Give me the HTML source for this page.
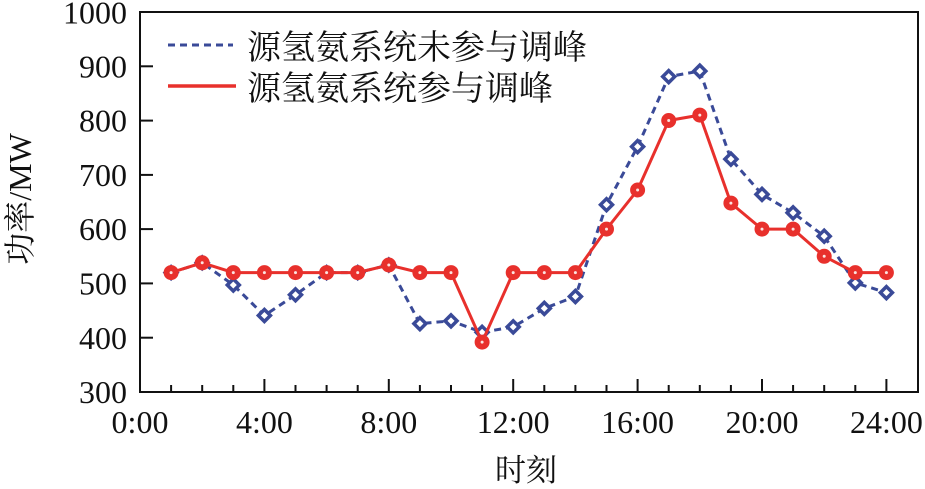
<!DOCTYPE html>
<html><head><meta charset="utf-8"><style>
html,body{margin:0;padding:0;background:#fff;}
svg{display:block;}
.n{font-family:"Liberation Serif","Noto Serif CJK SC",serif;font-size:32px;fill:#111;}
.c{font-family:"Liberation Serif","Noto Serif CJK SC",serif;fill:#111;}
</style></head><body>
<svg width="925" height="489" viewBox="0 0 925 489" xmlns="http://www.w3.org/2000/svg">
<rect x="0" y="0" width="925" height="489" fill="#fff"/>
<!-- frame -->
<rect x="140" y="12" width="778" height="380" fill="none" stroke="#111" stroke-width="2"/>
<!-- y ticks -->
<g stroke="#111" stroke-width="2">
<line x1="140" y1="337.7" x2="153" y2="337.7"/>
<line x1="140" y1="283.4" x2="153" y2="283.4"/>
<line x1="140" y1="229.1" x2="153" y2="229.1"/>
<line x1="140" y1="174.9" x2="153" y2="174.9"/>
<line x1="140" y1="120.6" x2="153" y2="120.6"/>
<line x1="140" y1="66.3" x2="153" y2="66.3"/>
<!-- x ticks -->
<line x1="171.1" y1="392" x2="171.1" y2="385"/>
<line x1="202.2" y1="392" x2="202.2" y2="385"/>
<line x1="233.3" y1="392" x2="233.3" y2="385"/>
<line x1="264.4" y1="392" x2="264.4" y2="379"/>
<line x1="295.5" y1="392" x2="295.5" y2="385"/>
<line x1="326.6" y1="392" x2="326.6" y2="385"/>
<line x1="357.7" y1="392" x2="357.7" y2="385"/>
<line x1="388.8" y1="392" x2="388.8" y2="379"/>
<line x1="419.9" y1="392" x2="419.9" y2="385"/>
<line x1="451" y1="392" x2="451" y2="385"/>
<line x1="482.1" y1="392" x2="482.1" y2="385"/>
<line x1="513.2" y1="392" x2="513.2" y2="379"/>
<line x1="544.3" y1="392" x2="544.3" y2="385"/>
<line x1="575.4" y1="392" x2="575.4" y2="385"/>
<line x1="606.5" y1="392" x2="606.5" y2="385"/>
<line x1="637.6" y1="392" x2="637.6" y2="379"/>
<line x1="668.7" y1="392" x2="668.7" y2="385"/>
<line x1="699.8" y1="392" x2="699.8" y2="385"/>
<line x1="730.9" y1="392" x2="730.9" y2="385"/>
<line x1="762" y1="392" x2="762" y2="379"/>
<line x1="793.1" y1="392" x2="793.1" y2="385"/>
<line x1="824.2" y1="392" x2="824.2" y2="385"/>
<line x1="855.3" y1="392" x2="855.3" y2="385"/>
<line x1="886.4" y1="392" x2="886.4" y2="379"/>
</g>
<!-- y labels -->
<g class="n" text-anchor="end">
<text x="127" y="403">300</text>
<text x="127" y="349">400</text>
<text x="127" y="294.5">500</text>
<text x="127" y="240">600</text>
<text x="127" y="186">700</text>
<text x="127" y="131.5">800</text>
<text x="127" y="77.5">900</text>
<text x="127" y="23.5">1000</text>
</g>
<!-- x labels -->
<g class="n" text-anchor="middle">
<text x="140" y="433">0:00</text>
<text x="264.4" y="433">4:00</text>
<text x="388.8" y="433">8:00</text>
<text x="513.2" y="433">12:00</text>
<text x="637.6" y="433">16:00</text>
<text x="762" y="433">20:00</text>
<text x="886.4" y="433">24:00</text>
</g>
<!-- axis titles -->
<text class="c" x="526" y="481" font-size="31" text-anchor="middle">时刻</text>
<text class="c" transform="translate(31,199) rotate(-90)" font-size="32" text-anchor="middle">功率/MW</text>
<!-- blue series -->
<polyline fill="none" stroke="#3a4a98" stroke-width="3" stroke-dasharray="7,5" points="171.1,272.6 202.2,262.8 233.3,285 264.4,315.5 295.5,294.8 326.6,272.6 357.7,272.6 388.8,265 419.9,323.6 451,320.9 482.1,332.3 513.2,326.9 544.3,308.4 575.4,296.5 606.5,204.7 637.6,146.6 668.7,76.6 699.8,71.1 730.9,159.1 762,194.4 793.1,212.8 824.2,236.2 855.3,282.9 886.4,292.6"/>
<g fill="#fff" stroke="#3a4a98" stroke-width="3.5">
<path d="M171.1,266.6 l6,6 l-6,6 l-6,-6z"/>
<path d="M202.2,256.8 l6,6 l-6,6 l-6,-6z"/>
<path d="M233.3,279 l6,6 l-6,6 l-6,-6z"/>
<path d="M264.4,309.5 l6,6 l-6,6 l-6,-6z"/>
<path d="M295.5,288.8 l6,6 l-6,6 l-6,-6z"/>
<path d="M326.6,266.6 l6,6 l-6,6 l-6,-6z"/>
<path d="M357.7,266.6 l6,6 l-6,6 l-6,-6z"/>
<path d="M388.8,259 l6,6 l-6,6 l-6,-6z"/>
<path d="M419.9,317.6 l6,6 l-6,6 l-6,-6z"/>
<path d="M451,314.9 l6,6 l-6,6 l-6,-6z"/>
<path d="M482.1,326.3 l6,6 l-6,6 l-6,-6z"/>
<path d="M513.2,320.9 l6,6 l-6,6 l-6,-6z"/>
<path d="M544.3,302.4 l6,6 l-6,6 l-6,-6z"/>
<path d="M575.4,290.5 l6,6 l-6,6 l-6,-6z"/>
<path d="M606.5,198.7 l6,6 l-6,6 l-6,-6z"/>
<path d="M637.6,140.6 l6,6 l-6,6 l-6,-6z"/>
<path d="M668.7,70.6 l6,6 l-6,6 l-6,-6z"/>
<path d="M699.8,65.1 l6,6 l-6,6 l-6,-6z"/>
<path d="M730.9,153.1 l6,6 l-6,6 l-6,-6z"/>
<path d="M762,188.4 l6,6 l-6,6 l-6,-6z"/>
<path d="M793.1,206.8 l6,6 l-6,6 l-6,-6z"/>
<path d="M824.2,230.2 l6,6 l-6,6 l-6,-6z"/>
<path d="M855.3,276.9 l6,6 l-6,6 l-6,-6z"/>
<path d="M886.4,286.6 l6,6 l-6,6 l-6,-6z"/>
</g>
<!-- red series -->
<polyline fill="none" stroke="#e8302c" stroke-width="3" points="171.1,272.6 202.2,262.8 233.3,272.6 264.4,272.6 295.5,272.6 326.6,272.6 357.7,272.6 388.8,265 419.9,272.6 451,272.6 482.1,342.1 513.2,272.6 544.3,272.6 575.4,272.6 606.5,229.1 637.6,190 668.7,120.5 699.8,115.1 730.9,203.1 762,229.1 793.1,229.1 824.2,256.3 855.3,272.6 886.4,272.6"/>
<g fill="#e8302c" stroke="#e8302c" stroke-width="2">
<circle cx="171.1" cy="272.6" r="6.5"/>
<circle cx="202.2" cy="262.8" r="6.5"/>
<circle cx="233.3" cy="272.6" r="6.5"/>
<circle cx="264.4" cy="272.6" r="6.5"/>
<circle cx="295.5" cy="272.6" r="6.5"/>
<circle cx="326.6" cy="272.6" r="6.5"/>
<circle cx="357.7" cy="272.6" r="6.5"/>
<circle cx="388.8" cy="265" r="6.5"/>
<circle cx="419.9" cy="272.6" r="6.5"/>
<circle cx="451" cy="272.6" r="6.5"/>
<circle cx="482.1" cy="342.1" r="6.5"/>
<circle cx="513.2" cy="272.6" r="6.5"/>
<circle cx="544.3" cy="272.6" r="6.5"/>
<circle cx="575.4" cy="272.6" r="6.5"/>
<circle cx="606.5" cy="229.1" r="6.5"/>
<circle cx="637.6" cy="190" r="6.5"/>
<circle cx="668.7" cy="120.5" r="6.5"/>
<circle cx="699.8" cy="115.1" r="6.5"/>
<circle cx="730.9" cy="203.1" r="6.5"/>
<circle cx="762" cy="229.1" r="6.5"/>
<circle cx="793.1" cy="229.1" r="6.5"/>
<circle cx="824.2" cy="256.3" r="6.5"/>
<circle cx="855.3" cy="272.6" r="6.5"/>
<circle cx="886.4" cy="272.6" r="6.5"/>
</g>
<g fill="#fbe3e0">
<circle cx="171.1" cy="272.6" r="1.5"/>
<circle cx="202.2" cy="262.8" r="1.5"/>
<circle cx="233.3" cy="272.6" r="1.5"/>
<circle cx="264.4" cy="272.6" r="1.5"/>
<circle cx="295.5" cy="272.6" r="1.5"/>
<circle cx="326.6" cy="272.6" r="1.5"/>
<circle cx="357.7" cy="272.6" r="1.5"/>
<circle cx="388.8" cy="265" r="1.5"/>
<circle cx="419.9" cy="272.6" r="1.5"/>
<circle cx="451" cy="272.6" r="1.5"/>
<circle cx="482.1" cy="342.1" r="1.5"/>
<circle cx="513.2" cy="272.6" r="1.5"/>
<circle cx="544.3" cy="272.6" r="1.5"/>
<circle cx="575.4" cy="272.6" r="1.5"/>
<circle cx="606.5" cy="229.1" r="1.5"/>
<circle cx="637.6" cy="190" r="1.5"/>
<circle cx="668.7" cy="120.5" r="1.5"/>
<circle cx="699.8" cy="115.1" r="1.5"/>
<circle cx="730.9" cy="203.1" r="1.5"/>
<circle cx="762" cy="229.1" r="1.5"/>
<circle cx="793.1" cy="229.1" r="1.5"/>
<circle cx="824.2" cy="256.3" r="1.5"/>
<circle cx="855.3" cy="272.6" r="1.5"/>
<circle cx="886.4" cy="272.6" r="1.5"/>
</g>
<!-- legend -->
<line x1="168" y1="45" x2="233" y2="45" stroke="#3a4a98" stroke-width="3" stroke-dasharray="7,5"/>
<line x1="168" y1="86" x2="236" y2="86" stroke="#e8302c" stroke-width="3.5"/>
<text class="c" x="247" y="59" font-size="34">源氢氨系统未参与调峰</text>
<text class="c" x="247" y="100" font-size="34">源氢氨系统参与调峰</text>
</svg>
</body></html>
